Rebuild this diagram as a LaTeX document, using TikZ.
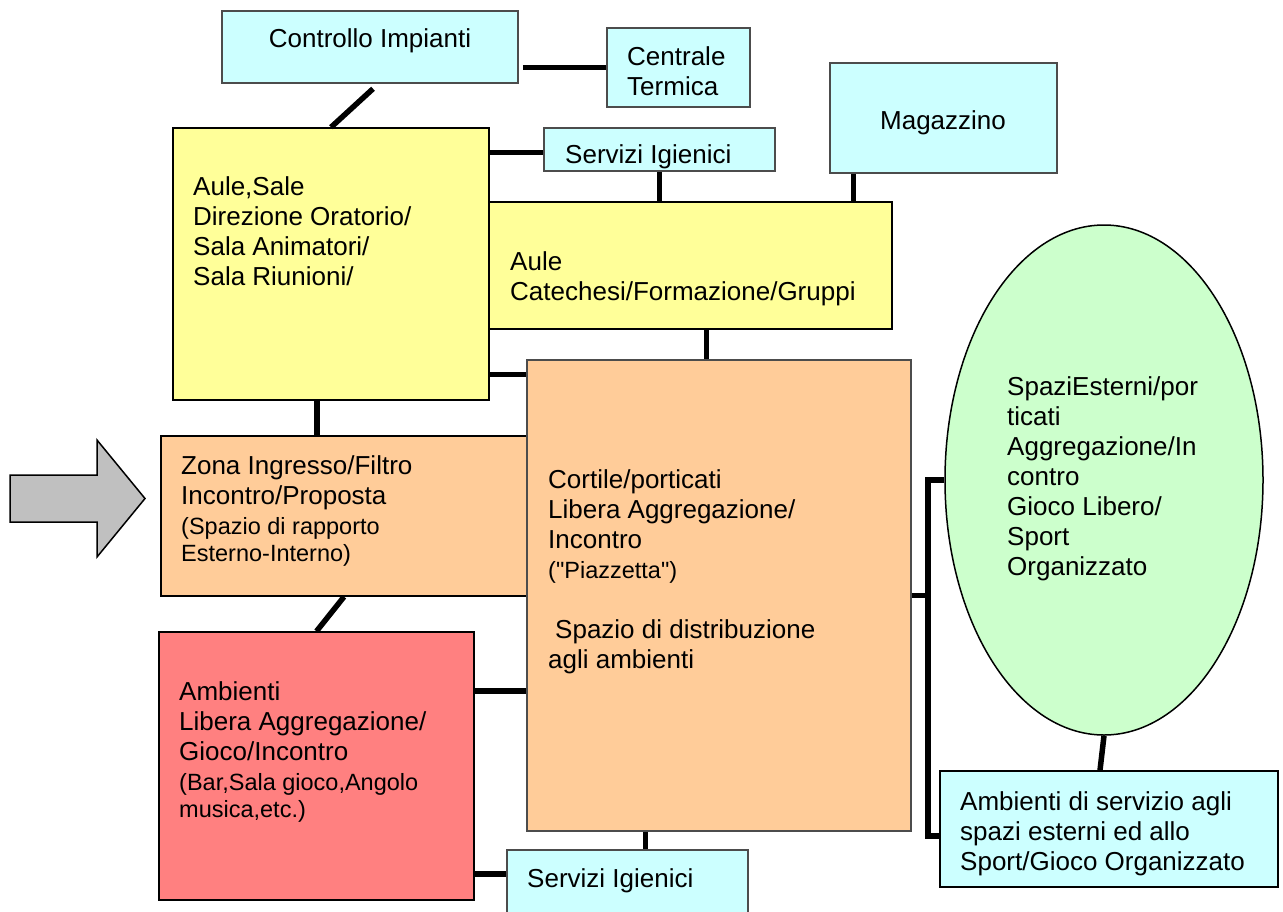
\documentclass[tikz,border=0pt]{standalone}
\usepackage{fontspec}
\setmainfont{Liberation Sans}
\usetikzlibrary{shapes.geometric,positioning}

\definecolor{celeste}{HTML}{CCFFFF}
\definecolor{giallo}{HTML}{FFFF99}
\definecolor{arancio}{HTML}{FFCC99}
\definecolor{rosso}{HTML}{FF8080}
\definecolor{verde}{HTML}{CCFFCC}
\definecolor{grigio}{HTML}{C0C0C0}

\newcommand{\testopiccolo}{\fontsize{23.5}{27}\selectfont}

\tikzset{
  area/.style={draw=black, line width=1.5pt, inner sep=0pt},
  servizio/.style={area, draw=black!70, fill=celeste},
  aula/.style={area, fill=giallo},
  spazio/.style={area, fill=arancio},
  testo/.style={inner sep=0pt, align=left, font=\fontsize{26}{30}\selectfont},
  link/.style={line width=5.5pt, black, line join=miter}
}

\begin{document}
\begin{tikzpicture}[x=1pt, y=-1pt]
  \useasboundingbox (0,0) rectangle (1283,911);

  % boxes
  \node[servizio, minimum width=296pt, minimum height=72pt] (impianti) at (370,47) {};
  \node[servizio, minimum width=143pt, minimum height=79pt] (termica) at (678.5,67.5) {};
  \node[servizio, minimum width=227pt, minimum height=110pt] (magazzino) at (943.5,118) {};
  \node[servizio, minimum width=231pt, minimum height=43pt] (igienici1) at (659.5,149.5) {};
  \node[aula, minimum width=316pt, minimum height=272pt] (sale) at (331,264) {};
  \node[aula, minimum width=403pt, minimum height=127pt] (catechesi) at (690.5,265.5) {};
  \node[spazio, minimum width=366pt, minimum height=160pt] (ingresso) at (344,516) {};
  \node[spazio, draw=black!70, minimum width=384pt, minimum height=471pt] (cortile) at (719,595.5) {};
  \node[area, fill=rosso, minimum width=315pt, minimum height=268pt] (ambienti) at (316.5,766) {};
  \node[servizio, minimum width=241pt, minimum height=66pt] (igienici2) at (627.5,883) {};
  \node[ellipse, area, fill=verde, minimum width=318pt, minimum height=510pt] (esterni) at (1104,480) {};
  \node[servizio, draw=black, minimum width=338pt, minimum height=116pt] (attrezzature) at (1109,829) {};

  % entrance arrow
  \draw[line width=1.5pt, fill=grigio, line join=miter]
    (10,475) -- (97,475) -- (97,440) -- (145,498.5) -- (97,557) -- (97,522) -- (10,522) -- cycle;

  % texts
  \node[testo, anchor=north] (impianti-t) at (370,28) {Controllo Impianti};
  \node[testo, anchor=north west] (termica-t) at (627,46) {Centrale\\Termica};
  \node[testo, anchor=north] (magazzino-t) at (943,110) {Magazzino};
  \node[testo, anchor=north west] (igienici1-t) at (565,144) {Servizi Igienici};
  \node[testo, anchor=north west] (sale-t) at (193,176)
    {Aule,Sale\\Direzione Oratorio/\\Sala Animatori/\\Sala Riunioni/};
  \node[testo, anchor=north west] (catechesi-t) at (510,251)
    {Aule\\Catechesi/Formazione/Gruppi};
  \node[testo, anchor=north west] (cortile-t) at (548,469)
    {Cortile/porticati\\Libera Aggregazione/\\Incontro\\{\testopiccolo (\textquotedbl Piazzetta\textquotedbl)}\\[30pt]\hspace{7pt}Spazio di distribuzione\\agli ambienti};
  \node[testo, anchor=north west] (ingresso-t) at (181,455)
    {Zona Ingresso/Filtro\\Incontro/Proposta\\{\testopiccolo (Spazio di rapporto}\\[-3pt]{\testopiccolo Esterno-Interno)}};
  \node[testo, anchor=north west] (ambienti-t) at (179,681)
    {Ambienti\\Libera Aggregazione/\\Gioco/Incontro\\{\testopiccolo (Bar,Sala gioco,Angolo}\\[-3pt]{\testopiccolo musica,etc.)}};
  \node[testo, anchor=north west] (igienici2-t) at (527,868) {Servizi Igienici};
  \node[testo, anchor=north west] (esterni-t) at (1007,376)
    {SpaziEsterni/por\\ticati\\Aggregazione/In\\contro\\Gioco Libero/\\Sport\\Organizzato};
  \node[testo, anchor=north west] (attrezzature-t) at (960,791)
    {Ambienti di servizio agli\\spazi esterni ed allo\\Sport/Gioco Organizzato};

  % connections
  \coordinate (p1) at ([xshift=4pt]impianti.east);
  \coordinate (p2) at ([yshift=-3pt]igienici1.west);
  \coordinate (p3) at ([xshift=24pt]magazzino.south west);
  \coordinate (p4) at ([xshift=16pt]catechesi.south);
  \coordinate (p5) at ([yshift=-15pt]cortile.north west);
  \coordinate (p6) at ([xshift=-14pt]sale.south);
  \coordinate (p7) at ([yshift=75pt]ambienti.east);
  \coordinate (p8) at ([yshift=9pt]igienici2.west);
  \coordinate (p9) at ([xshift=18pt]igienici2.north);
  \coordinate (bus) at ([xshift=16pt]cortile.east);
  \coordinate (p10) at ([yshift=-7pt]attrezzature.west);

  \draw[link] ([xshift=3pt,yshift=-5pt]impianti.south) -- (sale.north);
  \draw[link] (p1 |- termica.west) -- (termica.west);
  \draw[link] (sale.east |- p2) -- (p2);
  \draw[link] (igienici1.south) -- (igienici1.south |- catechesi.north);
  \draw[link] (p3) -- (p3 |- catechesi.north);
  \draw[link] (p4) -- (p4 |- cortile.north);
  \draw[link] (sale.east |- p5) -- (p5);
  \draw[link] (p6) -- (p6 |- ingresso.north);
  \draw[link] (ingresso.south) -- (ambienti.north);
  \draw[link] (p7) -- (p7 -| cortile.west);
  \draw[link] (ambienti.east |- p8) -- (p8);
  \draw[link] (p9 |- cortile.south) -- (p9);
  \draw[link] (cortile.east) -- (bus);
  \draw[link] (esterni.west) -| (bus |- p10) -- (p10);
  \draw[link] (esterni.south) -- ([xshift=-9pt]attrezzature.north);
\end{tikzpicture}
\end{document}
